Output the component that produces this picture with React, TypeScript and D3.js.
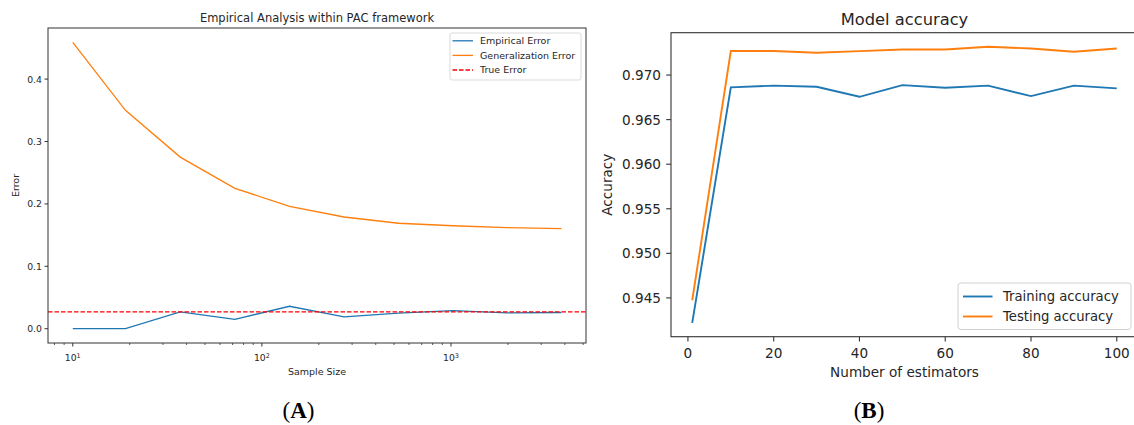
import React from 'react';
import * as d3 from 'd3';

// Panel A data
const sampleSizes = [10, 19, 37, 72, 140, 272, 528, 1023, 1982, 3838];
const empiricalError = [0, 0, 0.027, 0.015, 0.036, 0.019, 0.025, 0.029, 0.0255, 0.026];
const generalizationError = [0.459, 0.35, 0.275, 0.225, 0.196, 0.179, 0.169, 0.165, 0.162, 0.1605];
const trueError = 0.027;
const errorTicks = [0, 0.1, 0.2, 0.3, 0.4];
const sizeTicks = [10, 100, 1000];
const legendA = ['Empirical Error', 'Generalization Error', 'True Error'];

// Panel B data
const estimators = [1, 10, 20, 30, 40, 50, 60, 70, 80, 90, 100];
const trainingAcc = [0.9422, 0.96862, 0.96881, 0.96869, 0.96756, 0.96887, 0.96858, 0.96881, 0.96764, 0.96881, 0.9685];
const testingAcc = [0.94474, 0.97269, 0.97269, 0.9725, 0.97268, 0.97287, 0.97287, 0.97317, 0.97298, 0.97261, 0.97298];
const accTicks = [0.945, 0.95, 0.955, 0.96, 0.965, 0.97];
const estTicks = [0, 20, 40, 60, 80, 100];
const legendB = ['Training accuracy', 'Testing accuracy'];

const BLUE = '#1f77b4';
const ORANGE = '#ff7f0e';
const TXT = '#262626';
const FONT = '"DejaVu Sans", sans-serif';

const PanelA = () => {
  const L = 48, T = 28, R = 586, B = 343;
  const x = d3.scaleLog().domain([10 ** 0.869, 10 ** 3.714]).range([L, R]);
  const y = d3.scaleLinear().domain([-0.0229, 0.4819]).range([B, T]);
  const line = d3.line<number>().x((_, i) => x(sampleSizes[i])).y(d => y(d));
  const minor: number[] = [];
  for (let e = 0; e <= 3; e++) {
    for (let m = 2; m <= 9; m++) {
      const v = m * 10 ** e;
      if (x(v) >= L && x(v) <= R) minor.push(v);
    }
  }
  const lx = 450, ly = 33;
  return (
    <g fontFamily={FONT} fill={TXT}>
      <text x={(L + R) / 2} y={21.5} textAnchor="middle" fontSize={11.5}>Empirical Analysis within PAC framework</text>
      <path d={line(generalizationError) || ''} fill="none" stroke={ORANGE} strokeWidth={1.3} />
      <path d={line(empiricalError) || ''} fill="none" stroke={BLUE} strokeWidth={1.3} />
      <line x1={L} x2={R} y1={y(trueError)} y2={y(trueError)} stroke="#ff0000" strokeWidth={1.3} strokeDasharray="4.5,2" />
      <rect x={L} y={T} width={R - L} height={B - T} fill="none" stroke="#333" strokeWidth={1} />
      {errorTicks.map(t => (
        <g key={t}>
          <line x1={L - 3.5} x2={L} y1={y(t)} y2={y(t)} stroke="#333" />
          <text x={L - 6} y={y(t) + 3.4} textAnchor="end" fontSize={9.3}>{t.toFixed(1)}</text>
        </g>
      ))}
      {sizeTicks.map(t => (
        <g key={t}>
          <line x1={x(t)} x2={x(t)} y1={B} y2={B + 3.5} stroke="#333" />
          <text x={x(t)} y={361} textAnchor="middle" fontSize={9.3}>
            10<tspan fontSize={6.5} dy={-3.5}>{Math.log10(t)}</tspan>
          </text>
        </g>
      ))}
      {minor.map(t => (
        <line key={t} x1={x(t)} x2={x(t)} y1={B} y2={B + 2} stroke="#333" strokeWidth={0.8} />
      ))}
      <text x={(L + R) / 2} y={375} textAnchor="middle" fontSize={9.5}>Sample Size</text>
      <text transform={`translate(19,${(T + B) / 2}) rotate(-90)`} textAnchor="middle" fontSize={9.5}>Error</text>
      <rect x={lx} y={ly} width={131} height={47} rx={2} fill="#fff" fillOpacity={0.8} stroke="#d0d0d0" strokeWidth={0.8} />
      {legendA.map((name, i) => (
        <g key={name}>
          <line x1={lx + 2.5} x2={lx + 23} y1={ly + 7.8 + i * 14.6} y2={ly + 7.8 + i * 14.6}
            stroke={[BLUE, ORANGE, '#ff0000'][i]} strokeWidth={1.3} strokeDasharray={i === 2 ? '4.5,2' : undefined} />
          <text x={lx + 30} y={ly + 11 + i * 14.6} fontSize={9.5}>{name}</text>
        </g>
      ))}
      <text x={298.5} y={418} textAnchor="middle" fontFamily='"Liberation Serif", "Times New Roman", serif' fontSize={23} fill="#000">
        (<tspan fontWeight="bold">A</tspan>)
      </text>
    </g>
  );
};

const PanelB = () => {
  const L = 671, T = 32.7, R = 1138, B = 336.7;
  const x = d3.scaleLinear().domain([-3.95, 104.95]).range([L, R]);
  const y = d3.scaleLinear().domain([0.94065, 0.97475]).range([B, T]);
  const line = d3.line<number>().x((_, i) => x(estimators[i])).y(d => y(d));
  const lx = 958, ly = 283;
  return (
    <g fontFamily={FONT} fill={TXT}>
      <text x={(L + R) / 2} y={25} textAnchor="middle" fontSize={16.3}>Model accuracy</text>
      <path d={line(trainingAcc) || ''} fill="none" stroke={BLUE} strokeWidth={1.9} />
      <path d={line(testingAcc) || ''} fill="none" stroke={ORANGE} strokeWidth={1.9} />
      <rect x={L} y={T} width={R - L} height={B - T} fill="none" stroke="#333" strokeWidth={1.1} />
      {accTicks.map(t => (
        <g key={t}>
          <line x1={L - 4.8} x2={L} y1={y(t)} y2={y(t)} stroke="#333" strokeWidth={1.1} />
          <text x={L - 10} y={y(t) + 4.9} textAnchor="end" fontSize={13.6}>{t.toFixed(3)}</text>
        </g>
      ))}
      {estTicks.map(t => (
        <g key={t}>
          <line x1={x(t)} x2={x(t)} y1={B} y2={B + 4.8} stroke="#333" strokeWidth={1.1} />
          <text x={x(t)} y={358} textAnchor="middle" fontSize={13.6}>{t}</text>
        </g>
      ))}
      <text x={(L + R) / 2} y={377} textAnchor="middle" fontSize={13.6}>Number of estimators</text>
      <text transform={`translate(612,${(T + B) / 2}) rotate(-90)`} textAnchor="middle" fontSize={13.6}>Accuracy</text>
      <rect x={lx} y={ly} width={173} height={46.5} rx={3} fill="#fff" fillOpacity={0.8} stroke="#d0d0d0" strokeWidth={1} />
      {legendB.map((name, i) => (
        <g key={name}>
          <line x1={lx + 5} x2={lx + 34.5} y1={ly + 13.5 + i * 20} y2={ly + 13.5 + i * 20}
            stroke={i === 0 ? BLUE : ORANGE} strokeWidth={1.9} />
          <text x={lx + 45} y={ly + 18.3 + i * 20} fontSize={13.2}>{name}</text>
        </g>
      ))}
      <text x={869} y={418} textAnchor="middle" fontFamily='"Liberation Serif", "Times New Roman", serif' fontSize={23} fill="#000">
        (<tspan fontWeight="bold">B</tspan>)
      </text>
    </g>
  );
};

export default function App() {
  return (
    <svg width={1134} height={425} style={{ position: 'absolute', left: 0, top: 0, background: '#fff' }}>
      <rect width={1134} height={425} fill="#fff" />
      <PanelA />
      <PanelB />
    </svg>
  );
}
